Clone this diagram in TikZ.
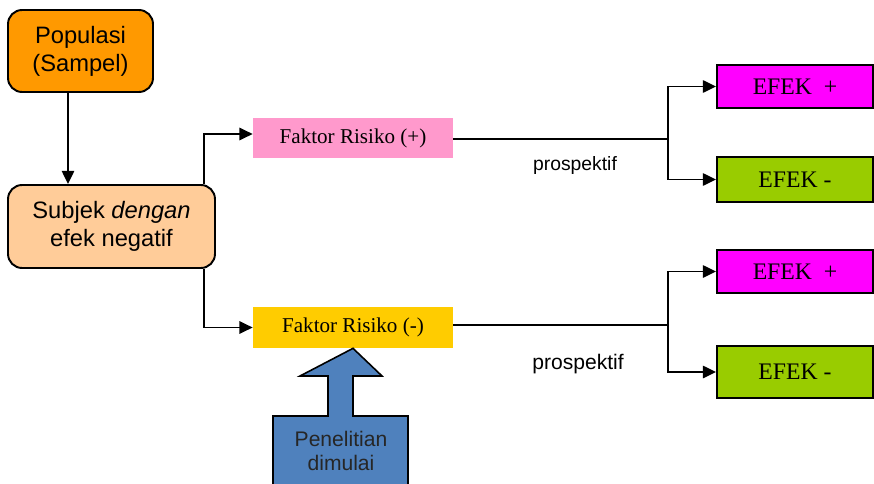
\documentclass[tikz,border=0pt]{standalone}
\usepackage{fontspec}
\setmainfont{Liberation Sans}
\newfontfamily\bookfont{Liberation Serif}
\definecolor{popuorange}{RGB}{255, 153, 0}
\definecolor{subjpeach}{RGB}{255, 204, 153}
\definecolor{riskpink}{RGB}{255, 153, 204}
\definecolor{riskyellow}{RGB}{255, 204, 0}
\definecolor{efekmagenta}{RGB}{255, 0, 255}
\definecolor{efekgreen}{RGB}{153, 204, 0}
\definecolor{startblue}{RGB}{79, 129, 189}
\usetikzlibrary{arrows.meta, positioning, calc}

\tikzset{
  arr/.style={-{Triangle[length=7.5pt, width=7pt]}, line width=1.1pt},
  roundbox/.style={draw, line width=1.1pt, rounded corners=8pt, align=center, font=\fontsize{13.5}{16}\selectfont},
  riskbox/.style={minimum width=4cm, minimum height=0.82cm, font=\bookfont\fontsize{12}{14}\selectfont},
  efekbox/.style={draw, line width=1.1pt, minimum width=3.12cm, font=\bookfont\fontsize{13.5}{15}\selectfont}
}

\begin{document}
\begin{tikzpicture}[x=0.02cm, y=-0.02cm]
  \useasboundingbox (0, 0) rectangle (874, 483);

  % Population and subject
  \node[roundbox, fill=popuorange, minimum width=2.9cm, minimum height=1.64cm] (pop) at (80.5, 51) {Populasi\\(Sampel)};
  \node[roundbox, fill=subjpeach, minimum width=4.14cm, minimum height=1.66cm] (subj) at (111.5, 226.5) {Subjek \textit{dengan}\\efek negatif};
  \draw[arr] ([xshift=-0.25cm]pop.south) -- ([xshift=-0.25cm]pop.south |- subj.north);

  % Risk factors
  \node[riskbox, fill=riskpink] (fplus) at (353, 138) {Faktor Risiko (+)};
  \node[riskbox, fill=riskyellow] (fminus) at (353, 327.5) {Faktor Risiko (-)};
  \draw[arr] ([xshift=1.85cm]subj.north) |- ([yshift=0.08cm]fplus.west);
  \draw[arr] ([xshift=1.85cm]subj.south) |- (fminus.west);

  % Effects
  \node[efekbox, fill=efekmagenta, minimum height=0.86cm] (e1p) at (795, 86.5) {EFEK~~+};
  \node[efekbox, fill=efekgreen, minimum height=0.9cm] (e1m) at (795, 179.5) {EFEK -};
  \node[efekbox, fill=efekmagenta, minimum height=0.86cm] (e2p) at (795, 271.5) {EFEK~~+};
  \node[efekbox, fill=efekgreen, minimum height=1.04cm] (e2m) at (795, 372) {EFEK -};

  \coordinate (br1) at (668, 139);
  \coordinate (br2) at (668, 325);
  \draw[line width=1.1pt] (fplus.east |- br1) -- (br1);
  \draw[line width=1.1pt] (fminus.east |- br2) -- (br2);
  \draw[arr] (br1) |- (e1p.west);
  \draw[arr] (br1) |- (e1m.west);
  \draw[arr] (br2) |- (e2p.west);
  \draw[arr] (br2) |- (e2m.west);

  \node[font=\fontsize{11}{13}\selectfont] (pro1) at (575, 166) {prospektif};
  \node[font=\fontsize{12}{14}\selectfont] (pro2) at (578, 364) {prospektif};

  % Start arrow
  \begin{scope}
    \clip (0, 0) rectangle (874, 483);
    \draw[fill=startblue, line width=0.9pt] (273, 495) -- (273, 416) -- (328, 416) -- (328, 376) -- (300, 376)
      -- (fminus.south) -- (382, 376) -- (353, 376) -- (353, 416) -- (408, 416) -- (408, 495) -- cycle;
  \end{scope}
  \node[align=center, font=\fontsize{12}{14}\selectfont, text=black!85] (start) at (341, 451) {Penelitian\\dimulai};
\end{tikzpicture}
\end{document}
